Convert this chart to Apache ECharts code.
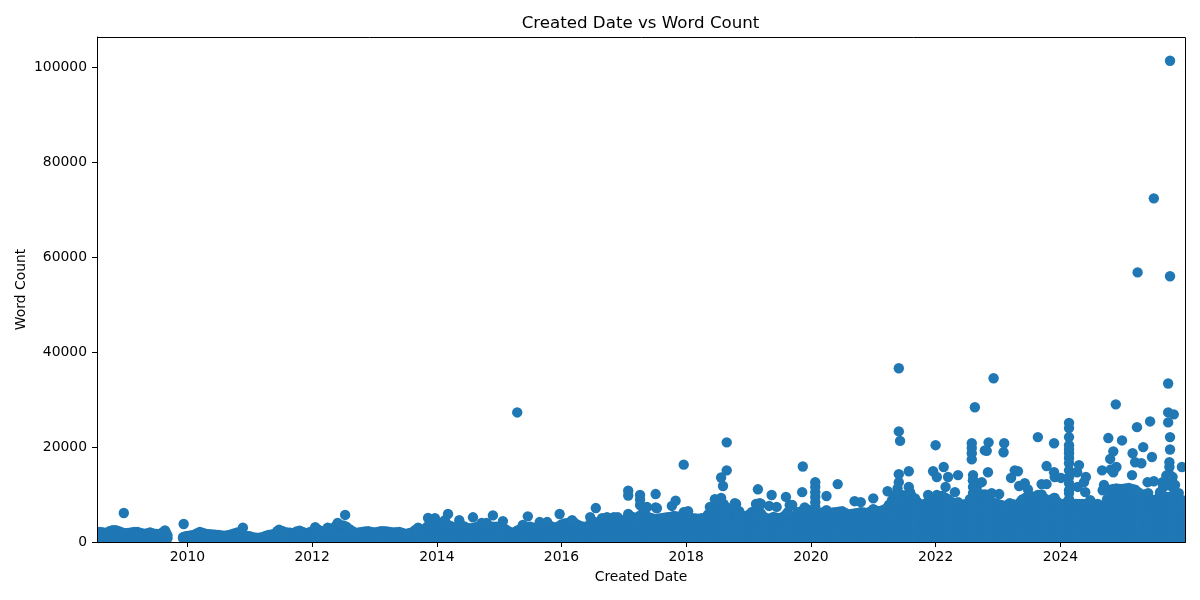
<!DOCTYPE html>
<html>
<head>
<meta charset="utf-8">
<style>html,body{margin:0;padding:0;background:#fff}#c{width:1200px;height:600px}</style>
<script src="https://cdn.jsdelivr.net/npm/echarts@6/dist/echarts.min.js"></script>
</head>
<body>
<div id="c"></div>
<script>
const chartTitle = 'Created Date vs Word Count';
const xName = 'Created Date';
const yName = 'Word Count';
const xTicks = [2010, 2012, 2014, 2016, 2018, 2020, 2022, 2024];
const yTicks = [0, 20000, 40000, 60000, 80000, 100000];

// Upper edge of the solid mass, [date as fractional year, word count], by era
const ridgeA = [[2008.55,2100],[2008.6,2100],[2008.65,2000],[2008.7,1900],[2008.75,2300],[2008.8,2500],[2008.85,2500],[2008.9,2300],[2008.95,2000],[2009.0,1850],[2009.05,1900],[2009.1,2000],[2009.15,2100],[2009.2,2100],[2009.25,1900],[2009.3,1750],[2009.35,1800],[2009.4,2000],[2009.45,1800],[2009.5,1700],[2009.53,1650],[2009.56,1600],[2009.6,2000],[2009.64,2450],[2009.66,1900],[2009.68,1400],
[2009.93,1000],[2009.96,1150],[2010.0,1300],[2010.05,1400],[2010.1,1500],[2010.15,1800],[2010.2,2100],[2010.25,1900],[2010.3,1700],[2010.35,1650],[2010.4,1600],[2010.45,1550],[2010.5,1500],[2010.55,1400],[2010.6,1350],[2010.65,1450],[2010.7,1600],[2010.75,1800],[2010.8,2000],[2010.85,1700],[2010.9,1400],[2010.95,1300],[2011.0,1200],[2011.05,1000],[2011.1,900],[2011.15,900],[2011.2,1000],[2011.25,1250],[2011.3,1500],[2011.35,1600],[2011.4,1700],[2011.44,2300],[2011.47,2600],[2011.53,2300],[2011.6,2000],[2011.65,1950],[2011.7,1900],[2011.75,2200],[2011.8,2400],[2011.85,2100],[2011.9,1800],[2011.95,2000],[2012.0,2300],[2012.1,2600],[2012.15,2300],[2012.2,2300],[2012.3,2800],[2012.6,2700],[2012.65,2300],[2012.7,1900],[2012.75,2000],[2012.8,2100],[2012.85,2200],[2012.9,2300],[2012.95,2100],[2013.0,2000],[2013.05,2100],[2013.1,2300],[2013.15,2250],[2013.2,2200],[2013.25,2100],[2013.3,2000],[2013.35,2050],[2013.4,2100],[2013.45,1900],[2013.5,1700],[2013.55,1850],[2013.6,2000],[2013.65,2500],[2013.75,2700],[2013.8,2400],[2015.1,2700],[2015.15,2300],[2015.2,1900],[2015.25,2100],[2015.3,2500],[2015.35,2800]];
const ridgeA2 = [[2012.05,3100],[2012.25,3000],[2012.38,3400],[2012.45,3500],[2012.5,3500],[2012.55,3200],[2013.7,3000]];
const ridgeB = [[2013.85,3300],[2013.9,3400],[2013.95,3300],[2014.0,3400],[2014.05,3800],[2014.1,4200],[2014.15,3800],[2014.2,3500],[2014.25,3200],[2014.3,3000],[2014.35,3200],[2014.4,3500],[2014.45,3200],[2014.5,2900],[2014.55,2900],[2014.6,3000],[2014.65,3200],[2014.7,3300],[2014.75,3300],[2014.8,3300],[2014.85,3250],[2014.9,3200],[2014.95,3200],[2015.0,3200],[2015.05,3000],[2015.4,3000],[2015.45,3100],[2015.5,3200],[2015.55,3000],[2015.6,2900],[2015.65,3300],[2015.7,3700],[2015.75,3600],[2015.8,3500],[2015.85,3200],[2015.9,3000],[2015.95,3300],[2016.0,3700],[2016.05,3900],[2016.1,4000],[2016.15,4100],[2016.2,4100],[2016.25,3700],[2016.3,3400],[2016.35,3200],[2016.4,3000],[2016.45,3700],[2016.5,4400],[2016.55,4100],[2016.6,3800],[2016.65,4200]];
const ridgeC = [[2016.7,4600],[2016.75,4300],[2016.8,4000],[2016.85,4400],[2016.9,4700],[2016.95,4600],[2017.0,4500],[2017.05,5000],[2017.1,5500],[2017.15,5200],[2017.2,5000],[2017.25,5500],[2017.3,6000],[2017.35,5600],[2017.4,5200],[2017.45,5000],[2017.5,4800],[2017.55,4900],[2017.6,5000],[2017.65,5100],[2017.7,5200],[2017.75,5300],[2017.8,5500],[2017.85,5400],[2017.9,5300],[2017.95,5500],[2018.0,5700],[2018.05,5300],[2018.1,5000],[2018.15,4950],[2018.2,4900],[2018.25,5000],[2018.3,5100],[2018.35,5800],[2018.9,5400],[2018.95,5500],[2019.0,5700],[2019.05,6000],[2019.25,5300],[2019.3,4800],[2019.35,5000],[2019.4,5300],[2019.45,5100],[2019.5,5000],[2019.55,5300],[2019.65,5300],[2019.7,5000],[2019.75,5500]];
const ridgeD = [[2018.4,6700],[2018.7,6500],[2018.75,7200],[2018.85,6500],[2019.1,6600],[2019.15,6300],[2019.2,6000],[2019.6,5800],[2019.8,6200],[2019.85,6500],[2019.9,7000],[2019.95,6800],[2020.0,6500],[2020.05,6200],[2020.1,6000],[2020.15,6100],[2020.2,6300],[2020.25,6200],[2020.3,6100],[2020.35,6200],[2020.4,6300],[2020.45,6400],[2020.5,6500],[2020.55,6100],[2020.6,5800],[2020.65,5900],[2020.7,6000],[2020.75,6100],[2020.8,6300],[2020.85,6200],[2020.9,6100],[2020.95,6400],[2021.0,6800],[2021.05,6600],[2021.1,6500],[2021.15,6700],[2021.2,7000],[2021.25,7800]];
const ridgeE = [[2018.45,7300],[2018.5,7900],[2018.55,8000],[2018.6,8000],[2018.65,7300],[2018.8,8000],[2021.7,8500],[2021.75,8000],[2021.8,7400],[2021.85,8200],[2022.3,8000],[2022.35,7900],[2022.4,7800],[2022.45,7900],[2022.5,8000],[2022.9,8500],[2022.95,8200],[2023.0,8000],[2023.05,7800],[2023.1,7600],[2023.15,7800],[2023.2,8000],[2023.25,7900],[2023.3,7800],[2023.35,8300],[2023.8,8500],[2024.0,7800],[2024.05,8000],[2024.1,8300],[2024.15,8100],[2024.2,8000],[2024.25,8000],[2024.3,8000],[2024.35,8000],[2024.4,8000],[2024.45,7900],[2024.5,7800],[2024.55,7900],[2024.6,8000],[2024.65,7700],[2024.7,7500],[2025.5,8000],[2025.9,8500],[2025.95,7800],[2025.98,7000]];
const ridgeF = [[2021.3,8800],[2021.35,9500],[2021.4,10000],[2021.45,9900],[2021.5,9800],[2021.55,9900],[2021.6,10000],[2021.65,9200],[2021.9,9000],[2021.95,9300],[2022.0,9500],[2022.05,9600],[2022.1,9700],[2022.15,9400],[2022.2,9000],[2022.25,8500],[2022.55,9000],[2022.6,13000],[2022.7,10000],[2022.75,10000],[2022.8,10000],[2022.85,9200],[2023.4,9000],[2023.45,9400],[2023.5,9800],[2023.55,9600],[2023.6,9500],[2023.65,9800],[2023.7,10000],[2023.75,9200],[2023.85,8900],[2023.9,9300],[2023.95,8500],[2024.75,9000],[2025.3,10000],[2025.35,10000],[2025.4,10000],[2025.45,9000],[2025.55,9000],[2025.6,10000],[2025.85,10000]];
const ridgeG = [[2022.65,11000],[2024.8,11000],[2024.85,11200],[2024.9,11300],[2024.95,11200],[2025.0,11200],[2025.05,11300],[2025.1,11400],[2025.15,11200],[2025.2,11000],[2025.25,10500],[2025.65,11500],[2025.7,12000],[2025.75,13000],[2025.8,11500]];

// Word counts read as the body of the solid mass under each era's ridge
const bodyA = [800];
const bodyA2 = [800, 1700];
const bodyB = [800, 2400];
const bodyC = [800, 2400, 3900];
const bodyD = [800, 2400, 3900, 5300];
const bodyE = [800, 2400, 3900, 5300, 6600];
const bodyF = [800, 2400, 3900, 5300, 6600, 8000];
const bodyG = [800, 2400, 3900, 5300, 6600, 8000, 9500];

// Individually visible points above the mass
const pointsEarly = [[2008.98,6100],[2009.94,3800],[2010.89,3000],[2012.53,5700],[2012.41,4000],[2013.86,5050],[2013.97,5000],[2014.18,5900],[2014.13,4600],[2014.36,4600],[2014.58,5200],[2014.72,4000],[2014.8,4000],[2014.9,5600],[2015.06,4400],[2015.29,27300],[2015.38,3600],[2015.46,5400],[2015.65,4200],[2015.77,4200],[2015.97,5900],[2016.17,4600],[2016.46,5250],[2016.55,7150],[2016.65,5000],[2016.73,5250],[2016.84,5250],[2016.9,5250]];
const points2017 = [[2017.07,10800],[2017.07,9800],[2017.07,5900],[2017.26,9900],[2017.26,8900],[2017.26,7800],[2017.36,7200],[2017.37,7400],[2017.51,10100],[2017.51,7300],[2017.53,7100],[2017.77,7600],[2017.83,8700],[2017.96,16300],[2017.96,6300],[2018.03,6500],[2018.38,7400],[2018.46,9000],[2018.56,9300],[2018.56,13600],[2018.59,11800],[2018.65,21000],[2018.65,15100],[2018.78,8200],[2018.78,7100]];
const points2019 = [[2019.05,6300],[2019.15,11100],[2019.12,8000],[2019.16,7400],[2019.18,8200],[2019.2,8000],[2019.33,7600],[2019.37,9900],[2019.45,7400],[2019.6,9500],[2019.63,6300],[2019.66,7800],[2019.7,7800],[2019.79,6300],[2019.86,10500],[2019.87,15900],[2019.9,7300],[2020.07,12600],[2020.07,11600],[2020.07,10500],[2020.07,9500],[2020.07,8400],[2020.07,7400],[2020.25,9700],[2020.25,6700],[2020.43,12200],[2020.7,8600],[2020.8,8400],[2021.0,9200],[2021.0,6900],[2021.23,10700]];
const points2021 = [[2021.35,9500],[2021.41,36600],[2021.41,23300],[2021.43,21300],[2021.41,14300],[2021.41,12600],[2021.39,11300],[2021.38,10300],[2021.48,8800],[2021.55,9500],[2021.57,14900],[2021.57,11600],[2021.59,10500],[2021.67,9200],[2021.88,9900],[2021.96,14900],[2022.0,20400],[2022.02,13700],[2022.02,9900],[2022.12,9500],[2022.13,15800],[2022.16,11600],[2022.2,13700],[2022.31,10500],[2022.36,14100],[2022.36,8400]];
const points2022 = [[2022.58,20800],[2022.58,19800],[2022.58,18700],[2022.58,17400],[2022.6,14100],[2022.6,13000],[2022.6,11600],[2022.6,10300],[2022.63,28400],[2022.66,11600],[2022.74,12600],[2022.79,19300],[2022.82,19200],[2022.84,14700],[2022.85,21000],[2022.9,10300],[2022.93,34500],[2023.02,10100],[2023.09,18900],[2023.1,20800]];
const points2023 = [[2023.19,8200],[2023.21,13500],[2023.27,15100],[2023.32,14900],[2023.34,11800],[2023.38,8800],[2023.43,12400],[2023.48,11100],[2023.64,22100],[2023.64,9900],[2023.7,12200],[2023.78,16000],[2023.78,12200],[2023.9,20800],[2023.9,14700],[2023.91,13700],[2023.91,9300],[2024.01,13500]];
const points2024 = [[2024.14,25100],[2024.14,24000],[2024.14,22100],[2024.14,20400],[2024.14,19500],[2024.14,18700],[2024.14,17700],[2024.14,16600],[2024.14,15100],[2024.14,13700],[2024.14,12400],[2024.14,10900],[2024.14,10300],[2024.14,9000],[2024.27,14700],[2024.28,11600],[2024.3,16200],[2024.38,12600],[2024.4,10500],[2024.41,13700],[2024.48,8800],[2024.67,15100],[2024.68,10900],[2024.7,12000],[2024.77,21900],[2024.8,17500],[2024.81,15300],[2024.85,19100],[2024.85,14700],[2024.89,29000],[2024.9,15800],[2024.99,21400]];
const points2025 = [[2025.15,14100],[2025.16,18700],[2025.2,16800],[2025.23,24200],[2025.24,56800],[2025.3,16600],[2025.33,20000],[2025.4,12600],[2025.41,10300],[2025.44,25400],[2025.47,17900],[2025.5,72400],[2025.5,12800],[2025.64,12600],[2025.64,12400],[2025.6,10500],[2025.73,33400],[2025.73,27300],[2025.73,25200],[2025.76,101400],[2025.76,56000],[2025.76,22100],[2025.76,19500],[2025.75,16800],[2025.75,15800],[2025.76,14100],[2025.7,14000],[2025.79,13000],[2025.8,13700],[2025.82,26900],[2025.84,12000],[2025.87,9900],[2025.9,10300],[2025.95,15800],[2025.96,8800]];

const ridges = [[ridgeA, bodyA], [ridgeA2, bodyA2], [ridgeB, bodyB], [ridgeC, bodyC], [ridgeD, bodyD], [ridgeE, bodyE], [ridgeF, bodyF], [ridgeG, bodyG]];
const points = [];
for (const [ridge, body] of ridges) {
  for (const [d, w] of ridge) {
    for (const b of body) points.push([d, b]);
    points.push([d, w]);
  }
}
points.push(...pointsEarly, ...points2017, ...points2019, ...points2021, ...points2022, ...points2023, ...points2024, ...points2025);

const font = '"DejaVu Sans"';
const black = '#000';
const chart = echarts.init(document.getElementById('c'), null, {renderer: 'canvas'});
chart.setOption({
  animation: false,
  backgroundColor: '#fff',
  title: {
    text: chartTitle, left: 635.5, top: 10, textAlign: 'center',
    textStyle: {fontFamily: font, fontSize: 16.67, fontWeight: 'normal', color: black}
  },
  grid: {left: 97, right: 15, top: 37, bottom: 58, show: false},
  xAxis: {
    type: 'value', min: 2008.55, max: 2026, name: xName, nameLocation: 'middle', nameGap: 28, nameMoveOverlap: false, z: 10,
    nameTextStyle: {fontFamily: font, fontSize: 13.9, color: black},
    axisLine: {show: true, onZero: false, lineStyle: {color: black, width: 1}},
    axisTick: {show: true, length: 5, lineStyle: {color: black, width: 1}, customValues: xTicks},
    axisLabel: {fontFamily: font, fontSize: 13.9, color: black, margin: 8.5, customValues: xTicks, formatter: v => String(v), hideOverlap: false},
    splitLine: {show: false}
  },
  yAxis: {
    type: 'value', min: 0, max: 106400, name: yName, nameLocation: 'middle', nameGap: 69, nameMoveOverlap: false, nameRotate: 90, z: 10,
    nameTextStyle: {fontFamily: font, fontSize: 13.9, color: black},
    axisLine: {show: true, lineStyle: {color: black, width: 1}},
    axisTick: {show: true, length: 5, lineStyle: {color: black, width: 1}, customValues: yTicks},
    axisLabel: {fontFamily: font, fontSize: 13.9, color: black, margin: 10, customValues: yTicks, formatter: v => String(v)},
    splitLine: {show: false}
  },
  // Masks trim the round markers at the plot edge, as the reference clips them; the frame sits on top.
  graphic: [
    {type: 'rect', z: 3, silent: true, shape: {x: 90, y: 30, width: 7, height: 520}, style: {fill: '#fff'}},
    {type: 'rect', z: 3, silent: true, shape: {x: 90, y: 542, width: 1105, height: 8}, style: {fill: '#fff'}},
    {type: 'rect', z: 3, silent: true, shape: {x: 1185, y: 30, width: 10, height: 520}, style: {fill: '#fff'}},
    {type: 'rect', z: 5, silent: true, shape: {x: 97.5, y: 37.5, width: 1088, height: 505}, style: {fill: 'none', stroke: black, lineWidth: 1}}
  ],
  series: [{
    type: 'scatter', data: points, symbol: 'circle', symbolSize: 10.4, clip: true, z: 2,
    itemStyle: {color: '#1f77b4', opacity: 1}, silent: true
  }]
});
</script>
</body>
</html>
